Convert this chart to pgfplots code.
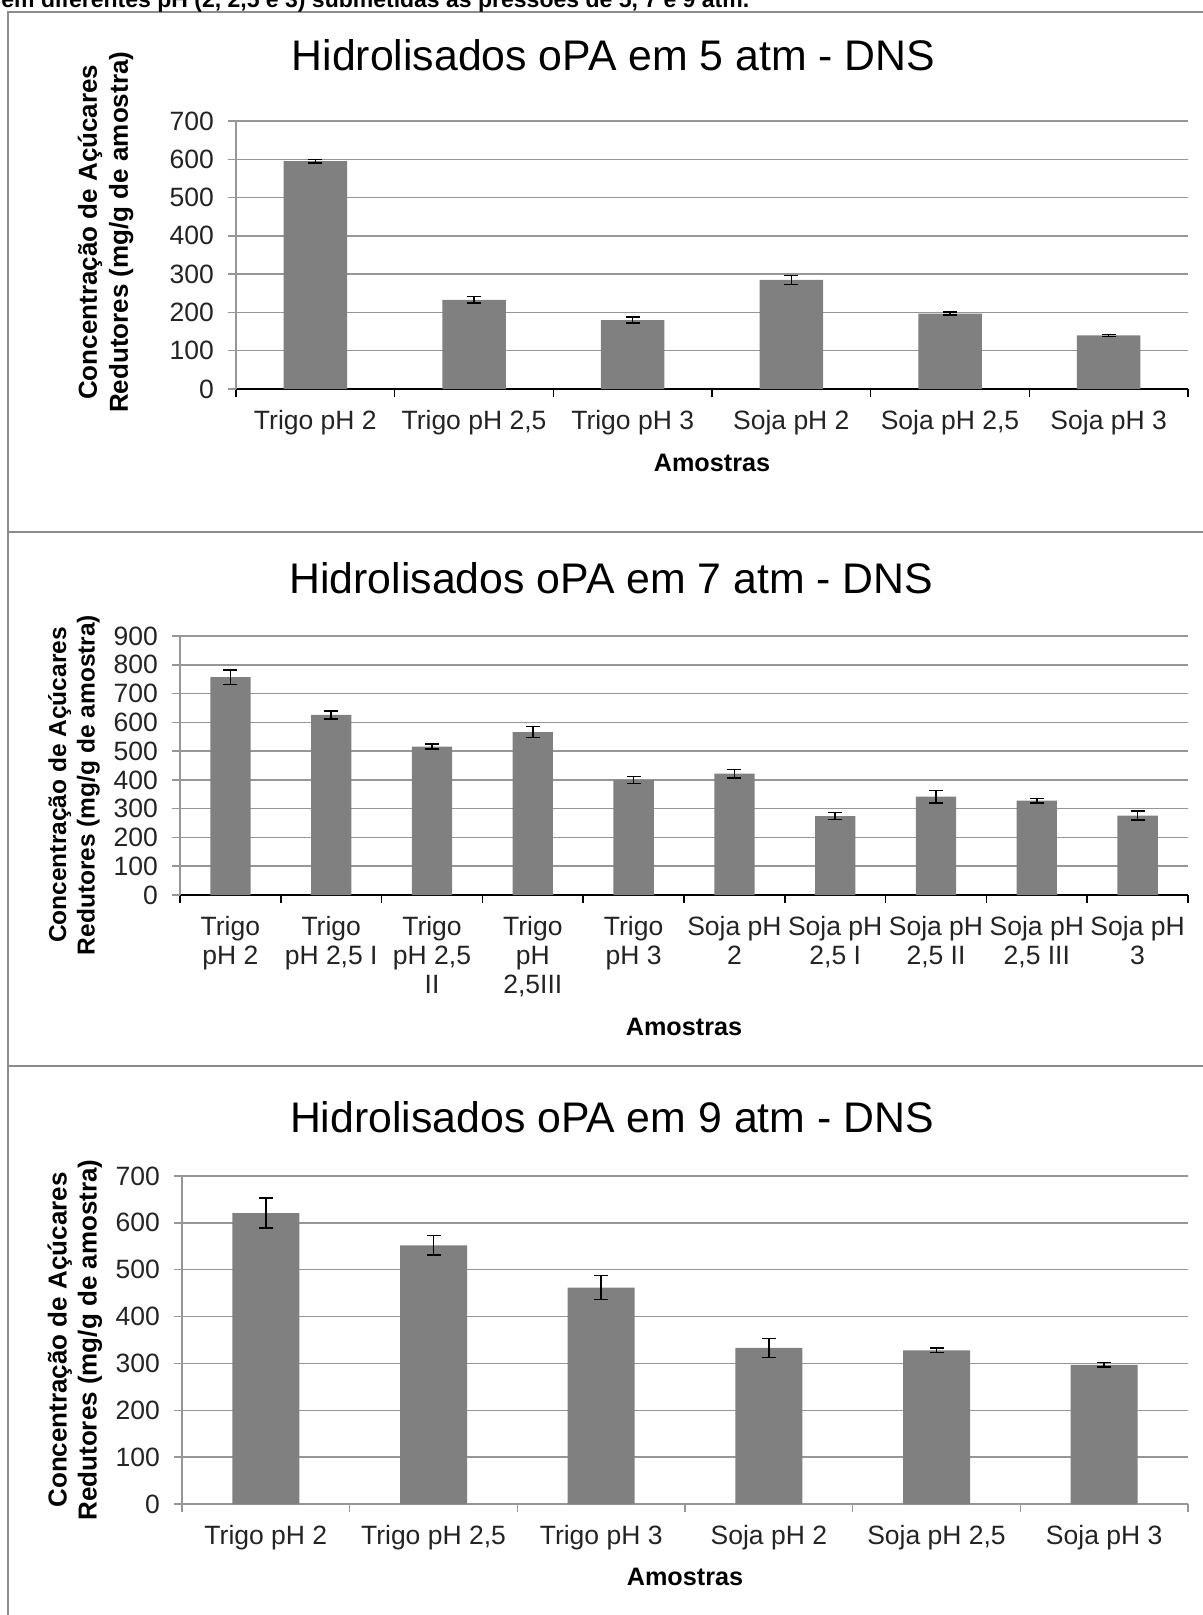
\documentclass[border=0pt]{standalone}
\usepackage{fontspec}
\setmainfont{Liberation Sans}
\usepackage{pgfplots}
\pgfplotsset{compat=1.18}
\definecolor{bargray}{RGB}{128,128,128}
\definecolor{gridgray}{RGB}{150,150,150}
\definecolor{framegray}{RGB}{140,140,140}
\definecolor{txt}{RGB}{35,35,35}
\pgfplotsset{
  excelbar/.style={
    scale only axis,
    anchor=south west,
    disabledatascaling,
    ymin=0,
    axis x line*=bottom, axis y line*=left,
    x axis line style={-,black,line width=1pt},
    y axis line style={-,gridgray,line width=0.75pt},
    xtick pos=bottom, ytick pos=left,
    tick align=outside, major tick length=4pt,
    xtick style={black,line width=0.75pt},
    ytick style={gridgray,line width=0.75pt},
    ymajorgrids, grid style={gridgray,line width=0.75pt},
    x tick label as interval,
    tick label style={font=\fontsize{13.25}{14.5}\selectfont, text=txt},
    /pgf/number format/assume math mode=true,
    yticklabel style={xshift=-3.5pt},
    xticklabel style={yshift=-3pt, align=center},
    every axis title/.style={font=\fontsize{21.4}{25}\selectfont, anchor=base, text=black},
    xlabel style={font=\bfseries\fontsize{12.6}{15}\selectfont, anchor=center},
    ylabel style={align=center, anchor=center},
  },
  excelseries/.style={
    ybar, fill=bargray, draw=none,
    error bars/.cd, y dir=both, y explicit,
    error bar style={black,line width=0.75pt},
    error mark options={rotate=90, mark size=3.5pt, line width=0.75pt, black},
  },
}
\begin{document}
\begin{tikzpicture}
\useasboundingbox (0pt,0pt) rectangle (601.5pt,-807.5pt);
\clip (0pt,0pt) rectangle (601.5pt,-807.5pt);
% frame
\draw[framegray, line width=0.75pt] (4pt,-810pt) -- (4pt,-6pt) -- (605pt,-6pt);
\draw[framegray, line width=0.75pt] (4pt,-266pt) -- (605pt,-266pt);
\draw[framegray, line width=0.75pt] (4pt,-533pt) -- (605pt,-533pt);
\node[anchor=base west, font=\bfseries\fontsize{11.5}{14}\selectfont, inner sep=0pt] at (0.5pt,-3.75pt)
  {em diferentes pH (2, 2,5 e 3) submetidas às pressões de 5, 7 e 9 atm.};

% ---------- Chart 1: 5 atm ----------
\begin{axis}[excelbar,
  at={(118pt,-194.5pt)}, width=476pt, height=134pt,
  xmin=-0.5, xmax=5.5, ymax=700,
  ytick={0,100,200,300,400,500,600,700},
  xtick={-0.5,0.5,1.5,2.5,3.5,4.5,5.5},
  xticklabels={{Trigo pH 2},{Trigo pH 2,5},{Trigo pH 3},{Soja pH 2},{Soja pH 2,5},{Soja pH 3}},
  bar width=31.75pt,
  title={Hidrolisados oPA em 5 atm - DNS},
  title style={at={(axis description cs:0.3966,1.1877)}},
  xlabel={Amostras},
  xlabel style={at={(axis description cs:0.5,-0.276)}},
  ylabel={Concentração de Açúcares\\Redutores (mg/g de amostra)},
  ylabel style={at={(axis description cs:-0.1371,0.585)}, font=\bfseries\fontsize{13}{15.5}\selectfont},
]
\addplot[excelseries] coordinates {
  (0,595) +- (0,5)
  (1,233) +- (0,9)
  (2,180) +- (0,8)
  (3,285) +- (0,12)
  (4,197) +- (0,4)
  (5,140) +- (0,3)
};
\end{axis}

% ---------- Chart 2: 7 atm ----------
\begin{axis}[excelbar,
  at={(90pt,-447.5pt)}, width=504pt, height=129.5pt,
  xmin=-0.5, xmax=9.5, ymax=900,
  ytick={0,100,200,300,400,500,600,700,800,900},
  xtick={-0.5,0.5,1.5,2.5,3.5,4.5,5.5,6.5,7.5,8.5,9.5},
  xticklabels={{Trigo\\pH 2},{Trigo\\pH 2,5 I},{Trigo\\pH 2,5\\II},{Trigo\\pH\\2,5III},{Trigo\\pH 3},{Soja pH\\2},{Soja pH\\2,5 I},{Soja pH\\2,5 II},{Soja pH\\2,5 III},{Soja pH\\3}},
  bar width=20.15pt,
  title={Hidrolisados oPA em 7 atm - DNS},
  title style={at={(axis description cs:0.428,1.166)}},
  xlabel={Amostras},
  xlabel style={at={(axis description cs:0.5,-0.5097)}},
  ylabel={Concentração de Açúcares\\Redutores (mg/g de amostra)},
  ylabel style={at={(axis description cs:-0.1052,0.4247)}, font=\bfseries\fontsize{12.25}{14.25}\selectfont},
]
\addplot[excelseries] coordinates {
  (0,757) +- (0,25)
  (1,626) +- (0,14)
  (2,516) +- (0,8)
  (3,566) +- (0,19)
  (4,400) +- (0,12)
  (5,422) +- (0,15)
  (6,274) +- (0,12)
  (7,342) +- (0,22)
  (8,328) +- (0,8)
  (9,276) +- (0,16)
};
\end{axis}

% ---------- Chart 3: 9 atm ----------
\begin{axis}[excelbar,
  at={(91pt,-752pt)}, width=503pt, height=164pt,
  xmin=-0.5, xmax=5.5, ymax=700,
  ytick={0,100,200,300,400,500,600,700},
  xtick={-0.5,0.5,1.5,2.5,3.5,4.5,5.5},
  x axis line style={gridgray,line width=0.75pt},
  xtick style={gridgray,line width=0.75pt},
  xticklabels={{Trigo pH 2},{Trigo pH 2,5},{Trigo pH 3},{Soja pH 2},{Soja pH 2,5},{Soja pH 3}},
  bar width=33.5pt,
  title={Hidrolisados oPA em 9 atm - DNS},
  title style={at={(axis description cs:0.4274,1.132)}},
  xlabel={Amostras},
  xlabel style={at={(axis description cs:0.5,-0.2226)}},
  ylabel={Concentração de Açúcares\\Redutores (mg/g de amostra)},
  ylabel style={at={(axis description cs:-0.1064,0.5)}, font=\bfseries\fontsize{13}{15}\selectfont},
]
\addplot[excelseries] coordinates {
  (0,621) +- (0,32)
  (1,552) +- (0,21)
  (2,462) +- (0,26)
  (3,333) +- (0,20)
  (4,328) +- (0,5)
  (5,297) +- (0,5)
};
\end{axis}
\end{tikzpicture}
\end{document}
